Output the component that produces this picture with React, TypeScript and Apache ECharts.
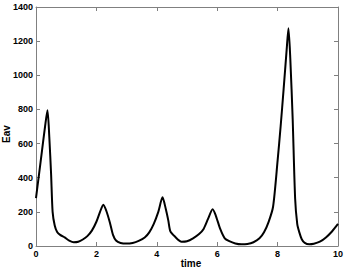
import React, { useEffect, useRef } from "react";
import * as echarts from "echarts";

const timeValues = [0, 0.1, 0.2, 0.3, 0.38, 0.44, 0.5, 0.55, 0.62, 0.7, 0.8, 0.95, 1.1, 1.25, 1.4, 1.55, 1.7, 1.85, 2.0, 2.12, 2.23, 2.33, 2.45, 2.55, 2.65, 2.8, 3.0, 3.2, 3.4, 3.6, 3.75, 3.9, 4.05, 4.19, 4.3, 4.38, 4.45, 4.6, 4.82, 5.0, 5.2, 5.4, 5.55, 5.7, 5.85, 5.95, 6.1, 6.25, 6.4, 6.6, 6.8, 7.0, 7.2, 7.4, 7.55, 7.7, 7.85, 8.0, 8.1, 8.2, 8.3, 8.36, 8.42, 8.5, 8.58, 8.65, 8.72, 8.8, 8.9, 9.05, 9.2, 9.4, 9.6, 9.8, 10];
const eavValues = [281, 420, 560, 700, 795, 640, 420, 200, 120, 82, 65, 50, 32, 22, 25, 38, 58, 90, 142, 200, 242, 205, 135, 65, 32, 18, 14, 18, 30, 50, 80, 130, 200, 285, 215, 150, 85, 55, 25, 28, 45, 70, 100, 160, 215, 180, 100, 45, 28, 15, 10, 12, 22, 45, 80, 140, 230, 500, 700, 920, 1150, 1275, 1100, 740, 280, 130, 80, 40, 18, 10, 13, 25, 50, 85, 129];

const xTicks = { min: 0, max: 10, interval: 2 };
const yTicks = { min: 0, max: 1400, interval: 200 };
const xName = "time";
const yName = "Eav";

export default function App() {
  const ref = useRef<HTMLDivElement>(null);
  useEffect(() => {
    if (!ref.current) return;
    const chart = echarts.init(ref.current, null, { renderer: "svg" });
    const font = "'Liberation Sans', Arial, sans-serif";
    const axisLine = { show: true, onZero: false, lineStyle: { color: "#808080", width: 1 } };
    const axisTick = { show: true, inside: true, length: 4, lineStyle: { color: "#808080" } };
    const fmt = (v: number) => String(v);
    chart.setOption({
      animation: false,
      grid: { left: 36, top: 7, width: 302, height: 239, containLabel: false, outerBoundsMode: "none" },
      graphic: [
        {
          type: "text",
          x: 6,
          y: 134,
          rotation: Math.PI / 2,
          style: { text: yName, align: "center", verticalAlign: "middle", fontFamily: font, fontWeight: "bold", fontSize: 10, fill: "#000" },
        },
        {
          type: "text",
          x: 191,
          y: 263,
          style: { text: xName, align: "center", verticalAlign: "middle", fontFamily: font, fontWeight: "bold", fontSize: 10, fill: "#000" },
        },
      ],
      xAxis: [
        {
          type: "value",
          min: xTicks.min,
          max: xTicks.max,
          interval: xTicks.interval,
          axisLine,
          axisTick,
          splitLine: { show: false },
          axisLabel: { margin: 3, fontFamily: font, fontWeight: "bold", fontSize: 9, color: "#000", formatter: fmt },
        },
        {
          type: "value",
          position: "top",
          min: xTicks.min,
          max: xTicks.max,
          interval: xTicks.interval,
          axisLine,
          axisTick,
          splitLine: { show: false },
          axisLabel: { show: false },
        },
      ],
      yAxis: [
        {
          type: "value",
          min: yTicks.min,
          max: yTicks.max,
          interval: yTicks.interval,
          axisLine,
          axisTick,
          splitLine: { show: false },
          axisLabel: { margin: 3, fontFamily: font, fontWeight: "bold", fontSize: 9, color: "#000", formatter: fmt },
        },
        {
          type: "value",
          position: "right",
          min: yTicks.min,
          max: yTicks.max,
          interval: yTicks.interval,
          axisLine,
          axisTick,
          splitLine: { show: false },
          axisLabel: { show: false },
        },
      ],
      series: [
        {
          type: "line",
          data: timeValues.map((t, i) => [t, eavValues[i]]),
          showSymbol: false,
          smooth: 0.25,
          lineStyle: { color: "#000", width: 2 },
          xAxisIndex: 0,
          yAxisIndex: 0,
        },
      ],
    });
    return () => chart.dispose();
  }, []);
  return <div ref={ref} style={{ position: "fixed", left: 0, top: 0, width: 346, height: 270, background: "#fff" }} />;
}
